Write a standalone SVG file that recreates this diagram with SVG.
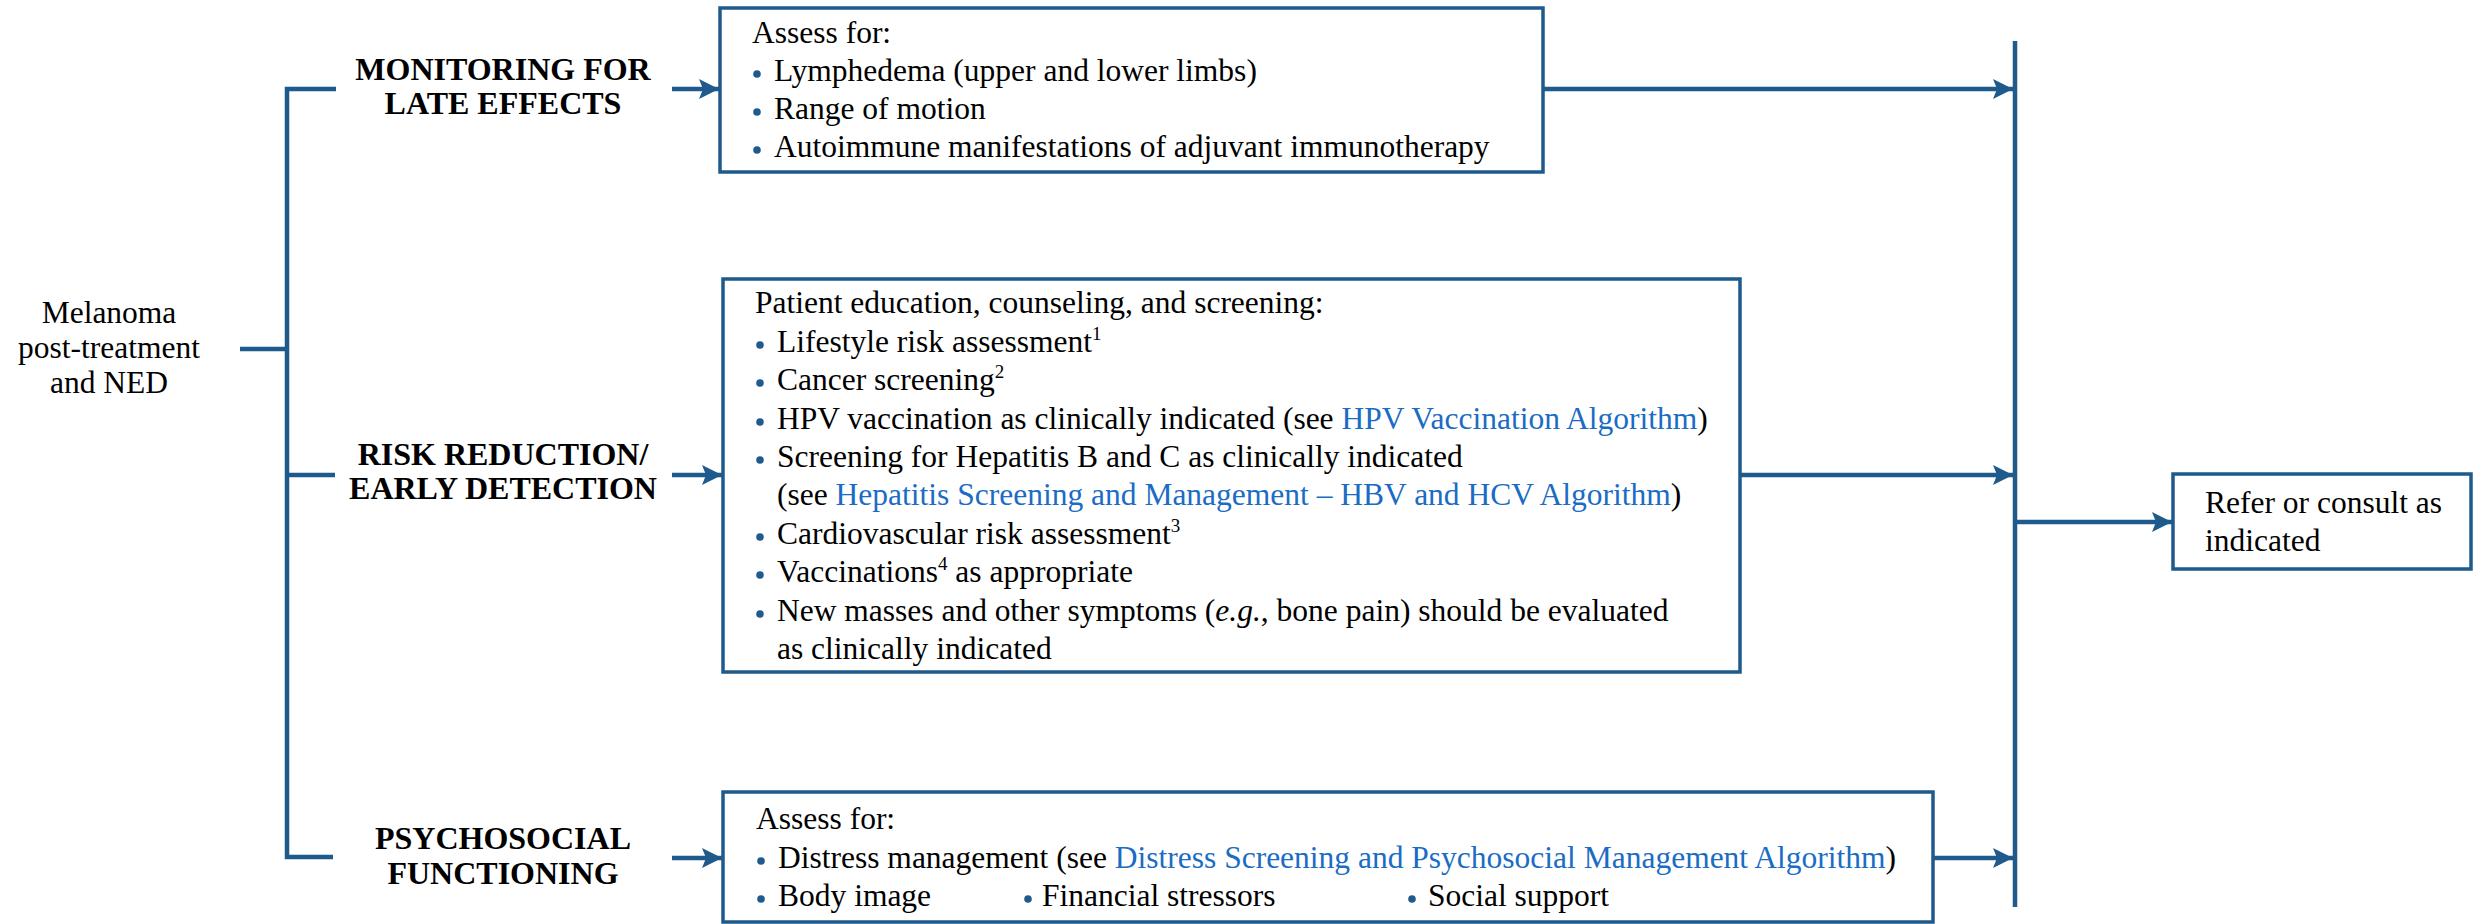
<svg xmlns="http://www.w3.org/2000/svg" width="2484" height="924" viewBox="0 0 2484 924">
<style>
.t{font-family:"Liberation Serif","Times New Roman",serif;font-size:31.5px;fill:#000}
.h{font-family:"Liberation Serif","Times New Roman",serif;font-size:32px;font-weight:bold;fill:#000;text-anchor:middle}
.lk{fill:#1A6CC4}
.box{fill:#fff;stroke:#1F5A8C;stroke-width:3.5}
.ln{fill:none;stroke:#1F5A8C;stroke-width:4.5}
.b{fill:#1F5A8C}
.sup{font-size:19px}
</style>
<defs>
<marker id="ah" viewBox="0 0 20 20" refX="20" refY="10" markerWidth="20" markerHeight="20" markerUnits="userSpaceOnUse" orient="auto">
<path d="M0,0 L20,10 L0,20 L4,10 z" fill="#1F5A8C"/>
</marker>
</defs>
<rect width="2484" height="924" fill="#fff"/>

<g id="connectors">
<path class="ln" d="M240,349 H287"/>
<path class="ln" d="M336,89 H287 V857 H333"/>
<path class="ln" d="M287,475 H335"/>
<path class="ln" d="M672,89 H719" marker-end="url(#ah)"/>
<path class="ln" d="M672,475 H722" marker-end="url(#ah)"/>
<path class="ln" d="M672,858 H722" marker-end="url(#ah)"/>
<path class="ln" d="M1543,89 H2013" marker-end="url(#ah)"/>
<path class="ln" d="M1740,475 H2013" marker-end="url(#ah)"/>
<path class="ln" d="M1933,858 H2013" marker-end="url(#ah)"/>
<path class="ln" d="M2015,41 V907"/>
<path class="ln" d="M2015,522 H2172" marker-end="url(#ah)"/>
</g>

<g id="start">
<text class="t" text-anchor="middle" x="109" y="323">Melanoma</text>
<text class="t" text-anchor="middle" x="109" y="358">post-treatment</text>
<text class="t" text-anchor="middle" x="109" y="393">and NED</text>
</g>

<g id="h-monitoring">
<text class="h" x="503" y="80">MONITORING FOR</text>
<text class="h" x="503" y="114">LATE EFFECTS</text>
</g>
<g id="h-risk">
<text class="h" x="503" y="465">RISK REDUCTION/</text>
<text class="h" x="503" y="499">EARLY DETECTION</text>
</g>
<g id="h-psycho">
<text class="h" x="503" y="849">PSYCHOSOCIAL</text>
<text class="h" x="503" y="884">FUNCTIONING</text>
</g>

<g id="box-monitoring">
<rect class="box" x="720" y="8" width="823" height="164"/>
<text class="t" x="752" y="43">Assess for:</text>
<circle class="b" cx="757" cy="74" r="3.8"/>
<text class="t" x="774" y="81">Lymphedema (upper and lower limbs)</text>
<circle class="b" cx="757" cy="112" r="3.8"/>
<text class="t" x="774" y="119">Range of motion</text>
<circle class="b" cx="757" cy="150" r="3.8"/>
<text class="t" x="774" y="157">Autoimmune manifestations of adjuvant immunotherapy</text>
</g>

<g id="box-risk">
<rect class="box" x="723" y="279" width="1017" height="393"/>
<text class="t" x="755" y="313">Patient education, counseling, and screening:</text>
<circle class="b" cx="760" cy="345" r="3.8"/>
<text class="t" x="777" y="352">Lifestyle risk assessment<tspan class="sup" dy="-12">1</tspan></text>
<circle class="b" cx="760" cy="383" r="3.8"/>
<text class="t" x="777" y="390">Cancer screening<tspan class="sup" dy="-12">2</tspan></text>
<circle class="b" cx="760" cy="422" r="3.8"/>
<text class="t" x="777" y="429">HPV vaccination as clinically indicated (see <tspan class="lk">HPV Vaccination Algorithm</tspan>)</text>
<circle class="b" cx="760" cy="460" r="3.8"/>
<text class="t" x="777" y="467">Screening for Hepatitis B and C as clinically indicated</text>
<text class="t" x="777" y="505">(see <tspan class="lk">Hepatitis Screening and Management – HBV and HCV Algorithm</tspan>)</text>
<circle class="b" cx="760" cy="537" r="3.8"/>
<text class="t" x="777" y="544">Cardiovascular risk assessment<tspan class="sup" dy="-12">3</tspan></text>
<circle class="b" cx="760" cy="575" r="3.8"/>
<text class="t" x="777" y="582">Vaccinations<tspan class="sup" dy="-12">4</tspan><tspan dy="12"> as appropriate</tspan></text>
<circle class="b" cx="760" cy="614" r="3.8"/>
<text class="t" x="777" y="621">New masses and other symptoms (<tspan font-style="italic">e.g.</tspan>, bone pain) should be evaluated</text>
<text class="t" x="777" y="659">as clinically indicated</text>
</g>

<g id="box-psycho">
<rect class="box" x="723" y="792" width="1210" height="130"/>
<text class="t" x="756" y="829">Assess for:</text>
<circle class="b" cx="761" cy="861" r="3.8"/>
<text class="t" x="778" y="868">Distress management (see <tspan class="lk">Distress Screening and Psychosocial Management Algorithm</tspan>)</text>
<circle class="b" cx="761" cy="899" r="3.8"/>
<text class="t" x="778" y="906">Body image</text>
<circle class="b" cx="1028" cy="899" r="3.8"/>
<text class="t" x="1042" y="906">Financial stressors</text>
<circle class="b" cx="1412" cy="899" r="3.8"/>
<text class="t" x="1428" y="906">Social support</text>
</g>

<g id="box-refer">
<rect class="box" x="2173" y="474" width="298" height="95"/>
<text class="t" x="2205" y="513">Refer or consult as</text>
<text class="t" x="2205" y="551">indicated</text>
</g>
</svg>
